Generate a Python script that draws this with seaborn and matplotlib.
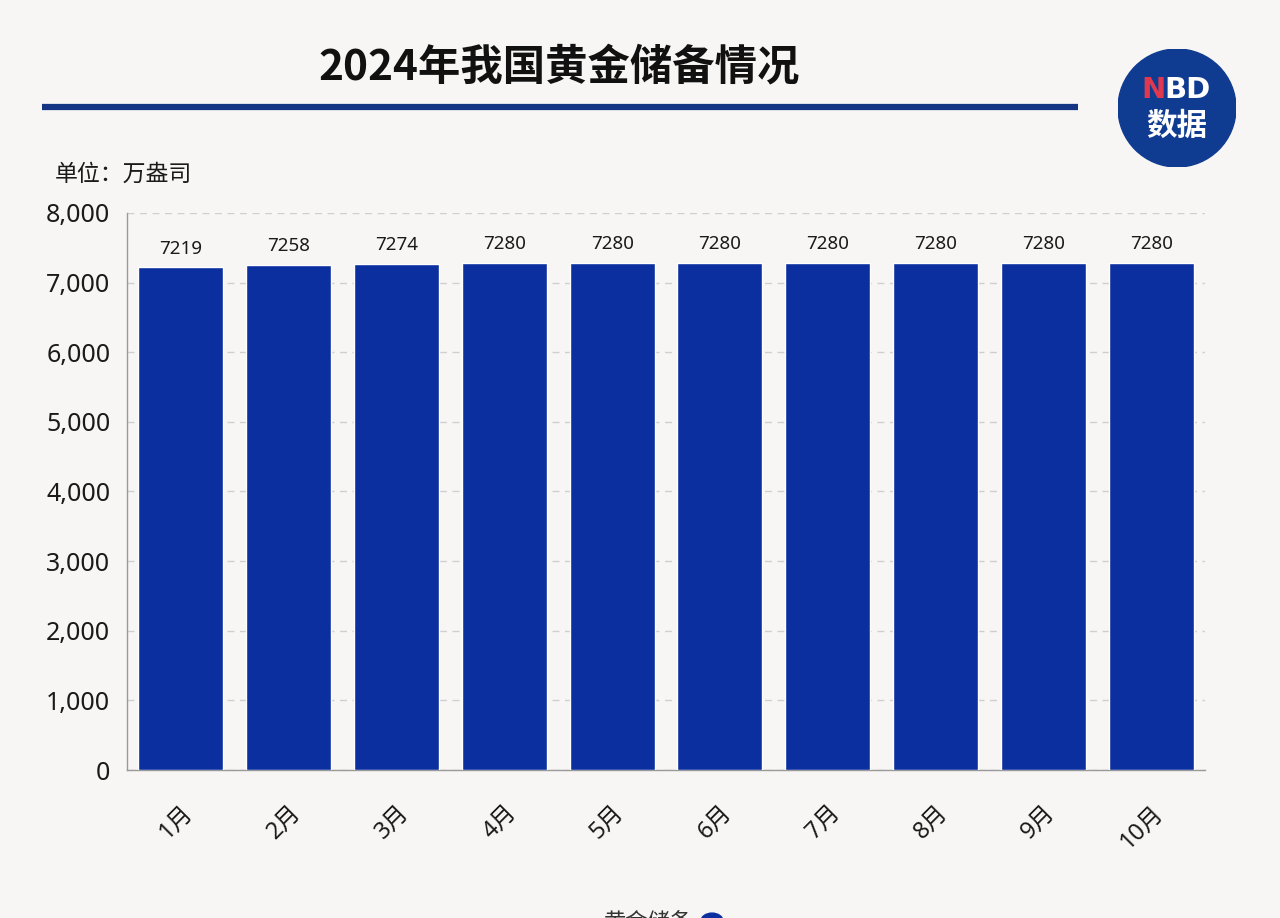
import matplotlib
matplotlib.use("Agg")
import matplotlib.pyplot as plt
import seaborn as sns
import pandas as pd
from matplotlib.patches import Circle
from matplotlib.lines import Line2D
from matplotlib.ticker import FuncFormatter, MultipleLocator

months = ["1月", "2月", "3月", "4月", "5月", "6月", "7月", "8月", "9月", "10月"]
reserves = [7219, 7258, 7274, 7280, 7280, 7280, 7280, 7280, 7280, 7280]

sns.set_theme(style="white")
plt.rcParams['font.family'] = ['Noto Sans', 'Noto Sans CJK SC', 'DejaVu Sans']
bold_family = ['Noto Sans CJK SC', 'DejaVu Sans']

bg = "#f7f6f4"
bar_color = "#0b2f9e"

fig = plt.figure(figsize=(12.8, 9.18), dpi=100, facecolor=bg)
ax = fig.add_axes([0.0992, 0.1612, 0.8422, 0.6068])
ax.set_facecolor(bg)

df = pd.DataFrame({"month": months, "value": reserves})
sns.barplot(data=df, x="month", y="value", color=bar_color, width=0.79,
            saturation=1, ax=ax, zorder=3)

ax.set_ylim(0, 8000)
ax.yaxis.set_major_locator(MultipleLocator(1000))
ax.yaxis.set_major_formatter(FuncFormatter(lambda v, p: f"{int(v):,}"))
ax.grid(axis="y", linestyle=(0, (5, 4)), color="#cfcfcf", linewidth=1, zorder=0)
ax.set_xlabel("")
ax.set_ylabel("")
for s in ["top", "right"]:
    ax.spines[s].set_visible(False)
for s in ["left", "bottom"]:
    ax.spines[s].set_color("#9a9a9a")
    ax.spines[s].set_linewidth(1)
ax.tick_params(axis="y", labelsize=18, colors="#1a1a1a", length=0, pad=12)
ax.tick_params(axis="x", labelsize=17, colors="#1a1a1a", length=0, pad=22)
for lbl in ax.get_xticklabels():
    lbl.set_rotation(45)
    lbl.set_ha("right")
    lbl.set_va("top")
    lbl.set_rotation_mode("anchor")

for c in ax.containers:
    ax.bar_label(c, labels=[str(v) for v in reserves], padding=7, fontsize=13.5, color="#1a1a1a")

# Title
fig.text(0.437, 0.926, "2024年我国黄金储备情况", ha="center", va="center",
         fontsize=30.5, fontweight="bold", color="#111111", family=bold_family)
fig.add_artist(Line2D([42/1280, 1078/1280], [1-107/918, 1-107/918],
                      color="#143583", linewidth=4.5, solid_capstyle="butt",
                      transform=fig.transFigure))
fig.text(55/1280, 1-175/918, "单位：万盎司", ha="left", va="center", fontsize=16.5, color="#1a1a1a")

# Logo
logo_ax = fig.add_axes([1118/1280, 1-167/918, 118/1280, 118/918])
logo_ax.set_xlim(-1, 1)
logo_ax.set_ylim(-1, 1)
logo_ax.set_aspect("equal")
logo_ax.axis("off")
logo_ax.add_patch(Circle((0, 0), 1, color="#0f3b91"))
logo_ax.text(-0.40, 0.30, "N", color="#e0394f", fontsize=21, fontweight="bold",
             ha="center", va="center", family=['DejaVu Sans'])
logo_ax.text(0.18, 0.30, "BD", color="white", fontsize=21, fontweight="bold",
             ha="center", va="center", family=['DejaVu Sans'])
logo_ax.text(0.0, -0.30, "数据", color="white", fontsize=22, fontweight="bold",
             ha="center", va="center", family=bold_family)

# Legend (cut off at bottom, as in the source image)
fig.text(648/1280, 1-924/918, "黄金储备", ha="center", va="center", fontsize=16, color="#333333")
fig.add_artist(Circle((712/1280, 1-921/918), 11/1280, color=bar_color,
                      transform=fig.transFigure))

fig.savefig("out.png", dpi=100, facecolor=bg)
